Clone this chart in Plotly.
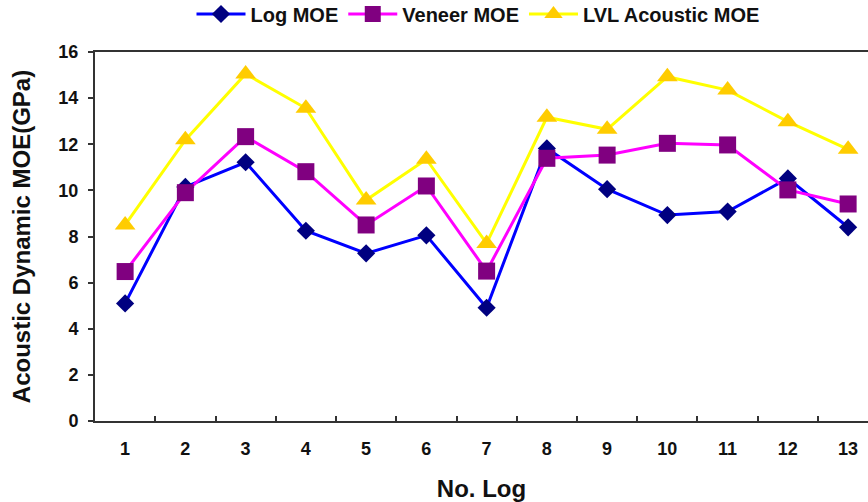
import plotly.graph_objects as go

logs = [str(i) for i in range(1, 14)]
log_moe = [5.1, 10.15, 11.22, 8.25, 7.27, 8.05, 4.91, 11.82, 10.05, 8.93, 9.08, 10.52, 8.4]
veneer_moe = [6.48, 9.9, 12.33, 10.81, 8.5, 10.19, 6.5, 11.39, 11.53, 12.04, 11.97, 10.02, 9.41]
lvl_moe = [8.5, 12.19, 15.05, 13.56, 9.58, 11.35, 7.7, 13.17, 12.65, 14.93, 14.35, 12.98, 11.78]
y_ticks = [0, 2, 4, 6, 8, 10, 12, 14, 16]

FONT = "Liberation Sans"
TXT = "#111111"
AX = "#333333"

fig = go.Figure()
fig.add_trace(go.Scatter(
    x=logs, y=log_moe, name="Log MOE", mode="lines+markers",
    line=dict(color="#0000FF", width=3),
    marker=dict(symbol="diamond", size=14, color="#000080"),
))
fig.add_trace(go.Scatter(
    x=logs, y=veneer_moe, name="Veneer MOE", mode="lines+markers",
    line=dict(color="#FF00FF", width=3),
    marker=dict(symbol="square", size=17, color="#800080"),
))
fig.add_trace(go.Scatter(
    x=logs, y=lvl_moe, name="LVL Acoustic MOE", mode="lines+markers",
    line=dict(color="#FFFF00", width=3),
    marker=dict(symbol="triangle-up", size=18, color="#FFCC00"),
))

fig.update_layout(
    width=868, height=502,
    margin=dict(l=95, r=0, t=52, b=81),
    paper_bgcolor="white", plot_bgcolor="white",
    font=dict(family=FONT, color=TXT, weight="bold"),
    showlegend=True,
    legend=dict(
        orientation="h", x=478 / 868, y=1 - 14 / 502, xref="container", yref="container",
        xanchor="center", yanchor="middle",
        font=dict(family=FONT, size=20, color=TXT, weight="bold"),
        itemwidth=49, tracegroupgap=0,
        bgcolor="rgba(0,0,0,0)",
    ),
    xaxis=dict(
        type="category", range=[-0.5, 12.33],
        tickson="boundaries", ticks="inside", ticklen=5, tickwidth=1.5, tickcolor=AX,
        showline=True, linecolor=AX, linewidth=2, mirror=True,
        showgrid=False, zeroline=False,
        tickfont=dict(family=FONT, size=18, color=TXT, weight="bold"),
        ticklabelstandoff=10,
        title=dict(text="No. Log", font=dict(family=FONT, size=24, color=TXT, weight="bold"), standoff=29),
        automargin=False,
    ),
    yaxis=dict(
        range=[0, 16], tickvals=y_ticks, ticks="outside", ticklen=5, tickwidth=1.5, tickcolor=AX,
        showline=True, linecolor=AX, linewidth=2,
        showgrid=False, zeroline=False,
        tickfont=dict(family=FONT, size=18, color=TXT, weight="bold"),
        ticklabelstandoff=6,
        title=dict(text="Acoustic Dynamic MOE(GPa)", font=dict(family=FONT, size=24, color=TXT, weight="bold"), standoff=21),
        automargin=False,
    ),
)

# remove the default 8px page margin so the figure sits at the window's top-left corner
fig.write_html(
    "out.html",
    config={"displayModeBar": False},
    post_script="document.body.style.margin='0px';",
)
